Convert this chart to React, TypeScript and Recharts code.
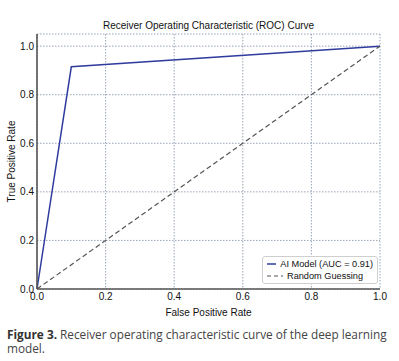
import React from 'react'
import { LineChart, Line, XAxis, YAxis, CartesianGrid, Label } from 'recharts'

const fprModel = [0, 0.1, 1]
const tprModel = [0, 0.915, 1]
const fprRandom = [0, 1]
const tprRandom = [0, 1]
const xTicks = [0, 0.2, 0.4, 0.6, 0.8, 1.0]
const yTicks = [0, 0.2, 0.4, 0.6, 0.8, 1.0]

const modelData = fprModel.map((x, i) => ({ x, y: tprModel[i] }))
const randomData = fprRandom.map((x, i) => ({ x, y: tprRandom[i] }))

const font = '"Liberation Sans", Arial, sans-serif'
const fmt = (v: number) => v.toFixed(1)

function LegendBox() {
  return (
    <div
      style={{
        position: 'absolute',
        left: 262,
        top: 256,
        width: 116,
        height: 28,
        boxSizing: 'border-box',
        border: '1px solid #cfcfcf',
        borderRadius: 3,
        background: '#fff',
        padding: '1px 4px',
        fontFamily: font,
        fontSize: 9.2,
        color: '#111',
        lineHeight: '12px',
        whiteSpace: 'nowrap',
      }}
    >
      <div style={{ display: 'flex', alignItems: 'center' }}>
        <svg width={16} height={8} style={{ marginRight: 4 }}>
          <line x1={0} y1={4} x2={16} y2={4} stroke="#2f3c9e" strokeWidth={1.5} />
        </svg>
        AI Model (AUC = 0.91)
      </div>
      <div style={{ display: 'flex', alignItems: 'center' }}>
        <svg width={16} height={8} style={{ marginRight: 4 }}>
          <line x1={0} y1={4} x2={16} y2={4} stroke="#555" strokeWidth={1.2} strokeDasharray="4 3" />
        </svg>
        Random Guessing
      </div>
    </div>
  )
}

export default function App() {
  return (
    <div style={{ position: 'absolute', left: 0, top: 0, width: 399, height: 361, background: '#fff' }}>
      <div
        style={{
          position: 'absolute',
          top: 20,
          left: 37,
          width: 343,
          textAlign: 'center',
          fontFamily: font,
          fontSize: 10,
          color: '#111',
        }}
      >
        Receiver Operating Characteristic (ROC) Curve
      </div>
      <LineChart width={399} height={322} margin={{ top: 34, right: 19, bottom: 0, left: 2 }}>
        <CartesianGrid stroke="#8e9cb0" strokeDasharray="1.5 1.5" strokeWidth={0.9} />
        <XAxis
          dataKey="x"
          type="number"
          domain={[0, 1]}
          ticks={xTicks}
          tickFormatter={fmt}
          allowDuplicatedCategory={false}
          axisLine={{ stroke: '#555', strokeWidth: 1.6 }}
          tickLine={false}
          tickSize={0}
          tick={{ fontSize: 10, fill: '#111', fontFamily: font }}
          height={33}
          tickMargin={4}
        >
          <Label value="False Positive Rate" position="insideBottom" offset={6} style={{ fontSize: 10, fill: '#111', fontFamily: font }} />
        </XAxis>
        <YAxis
          dataKey="y"
          type="number"
          domain={[0, 1.05]}
          ticks={yTicks}
          tickFormatter={fmt}
          axisLine={{ stroke: '#555', strokeWidth: 1.6 }}
          tickLine={false}
          tickSize={0}
          tick={{ fontSize: 10, fill: '#111', fontFamily: font }}
          width={35}
          tickMargin={3}
        >
          <Label value="True Positive Rate" angle={-90} position="insideLeft" offset={9} style={{ fontSize: 10, fill: '#111', fontFamily: font, textAnchor: 'middle' }} />
        </YAxis>
        <Line
          data={modelData}
          dataKey="y"
          name="AI Model (AUC = 0.91)"
          stroke="#2f3c9e"
          strokeWidth={1.5}
          dot={false}
          isAnimationActive={false}
        />
        <Line
          data={randomData}
          dataKey="y"
          name="Random Guessing"
          stroke="#555"
          strokeWidth={1.2}
          strokeDasharray="5 3"
          dot={false}
          isAnimationActive={false}
        />
      </LineChart>
      <LegendBox />
      <div
        style={{
          position: 'absolute',
          top: 328,
          left: 7,
          width: 390,
          fontFamily: '"Open Sans", sans-serif',
          fontSize: 11.8,
          lineHeight: '13.5px',
          color: '#444',
        }}
      >
        <span style={{ fontWeight: 700, color: '#333' }}>Figure 3. </span>
        <span>Receiver operating characteristic curve of the deep learning model.</span>
      </div>
    </div>
  )
}
